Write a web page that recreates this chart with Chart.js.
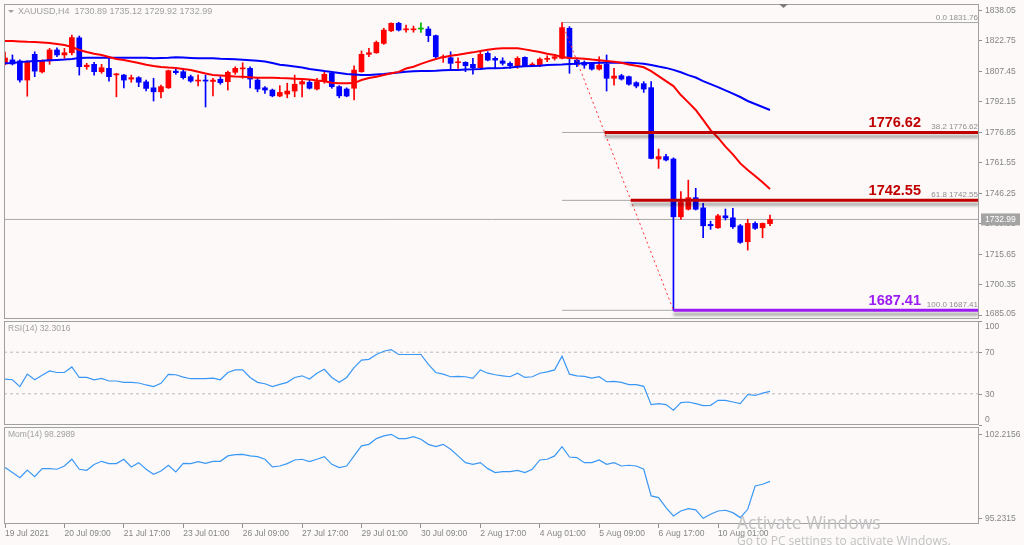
<!DOCTYPE html>
<html>
<head>
<meta charset="utf-8">
<title>XAUUSD H4</title>
<script src="https://cdn.jsdelivr.net/npm/chart.js@4.4.1/dist/chart.umd.min.js"></script>
<style>
  html, body { margin: 0; padding: 0; background: #fdf9f9; }
  #wrap { position: relative; width: 1024px; height: 545px; overflow: hidden; background: #fdf9f9; }
  canvas { position: absolute; left: 0; }
  .wm { position: absolute; left: 737px; color: #c2c2c2; font-family: "Open Sans", sans-serif; white-space: nowrap; line-height: 1; }
</style>
</head>
<body>
<div id="wrap">
  <canvas id="priceChart" width="1024" height="321" style="top:0"></canvas>
  <canvas id="rsiChart" width="1024" height="107" style="top:320px"></canvas>
  <canvas id="momChart" width="1024" height="119" style="top:426px"></canvas>
  <div class="wm" style="top:514px;font-size:17.5px">Activate Windows</div>
  <div class="wm" style="top:535px;font-size:12px">Go to PC settings to activate Windows.</div>
</div>
<script>
// XAUUSD H4 candles, 19 Jul 2021 01:00 -> 11 Aug 2021 05:00
const open = [1811,1813,1812.5,1802.9,1815.8,1807,1812.5,1818,1815.5,1816.6,
  1824.1,1809.6,1810.8,1807.1,1808.8,1805.5,1805.4,1803.4,1804.1,1802,
  1799,1797,1799,1807.4,1807.1,1804.6,1802.4,1802.9,1802.2,1803.3,
  1802.1,1806.8,1808.5,1808.8,1802.9,1799,1797.9,1794.9,1795.9,1797.4,
  1800.9,1801.8,1798.4,1802.1,1806.3,1799.6,1798.4,1798.8,1807.1,1815.8,
  1816.6,1821.3,1827.6,1831.4,1828.1,1828.1,1828.5,1828.5,1825.2,1814.1,
  1814.1,1811.6,1811.8,1810.8,1809.1,1816.3,1813.8,1812.5,1811.3,1809.6,
  1814.3,1810.4,1810.1,1813.3,1813.8,1813.8,1828.9,1812.9,1811.8,1811.3,
  1808.4,1810.8,1803.8,1805.1,1804.6,1801.6,1801.1,1799.1,1763.3,1764.5,
  1763.3,1734.3,1738.1,1743.9,1738.8,1730.5,1728.8,1734.8,1733.8,1729.8,
  1721.8,1731.0,1728.8,1730.89];
const high = [1817,1815.5,1813,1812.5,1817.1,1813,1818.8,1819.1,1818.8,1825.5,
  1825,1811.3,1811.8,1810.8,1813.8,1806.3,1805.8,1805.4,1804.6,1802.9,
  1803.8,1800.4,1807.9,1808.4,1808.8,1805.4,1805.5,1805.4,1803.8,1804.6,
  1807.4,1809.6,1811.6,1809.6,1803.8,1799.6,1798.4,1800.1,1801.3,1805.4,
  1803.8,1802.9,1803.8,1806.8,1806.8,1800.1,1799,1810.1,1817.5,1818.8,
  1822.5,1828.9,1831.6,1831.9,1830.5,1830,1831.6,1829.7,1825.5,1815.5,
  1817.1,1814.1,1812.1,1813.8,1817.1,1817.1,1814.6,1814.1,1812.1,1814.6,
  1814.6,1811.6,1814.1,1815.1,1815.8,1831.76,1829.7,1813.8,1812.5,1811.6,
  1814.6,1815.5,1808.8,1805.8,1804.9,1802.1,1802.1,1802.1,1768.3,1765.7,
  1763.9,1746.9,1752.7,1748.6,1741.1,1732.1,1735.5,1738.2,1738.5,1730.5,
  1733.1,1731.8,1731.2,1735.12];
const low = [1810.5,1810.5,1801.8,1794.8,1804.6,1806.5,1810.8,1814.6,1813.8,1815.5,
  1805.4,1808.3,1805.4,1806.3,1802.4,1794.5,1799,1801.8,1799.6,1797.4,
  1792.4,1794,1798.7,1805.8,1803.4,1801.8,1800,1789.4,1794.9,1800.8,
  1797.9,1805.8,1803.8,1799,1797,1796.2,1794.5,1794.5,1794,1794.5,
  1794.5,1798.4,1797.9,1801.3,1798.8,1794,1794.5,1792.9,1806.8,1814.6,
  1816.3,1820.8,1827.2,1827.5,1826.9,1826.9,1826.8,1822.2,1814.1,1811.8,
  1807.9,1808.8,1807.1,1805.8,1808.8,1812.5,1808.8,1810.4,1808.8,1808.8,
  1809.6,1809.6,1809.6,1812.1,1812.9,1813.5,1806.3,1809.6,1808.8,1807.9,
  1807.9,1797.4,1800.4,1802.9,1800.4,1799,1796.7,1763.3,1758.6,1762.3,
  1687.41,1733,1737.7,1737.7,1723.8,1728,1728.5,1732.7,1728.5,1721,
  1717.6,1728,1723.8,1729.92];
const close = [1814,1811,1802.9,1811.8,1807.4,1812.4,1818,1815.5,1816.6,1824.2,
  1809.6,1810.4,1807.1,1809.1,1804.6,1805.8,1802.9,1804.1,1801.8,1798.7,
  1797,1799.6,1807.6,1806.6,1804.1,1802.4,1802.9,1802.4,1802.9,1801.6,
  1806.8,1808.8,1808.8,1803.4,1798.4,1797.9,1795,1796.7,1797.4,1800.8,
  1802.1,1798.8,1802.1,1805.8,1799.6,1795,1794.9,1807.9,1815.8,1816.6,
  1821.8,1828,1831.4,1828,1828.5,1828.5,1828.5,1825.2,1814.6,1814.6,
  1811.3,1812.1,1810.1,1809.1,1815.8,1812.9,1812.9,1811.3,1810.1,1813.8,
  1810.1,1810.8,1813.4,1813.8,1814.6,1829.2,1813.8,1810.8,1810.4,1808.4,
  1810.4,1803.8,1804.9,1803.4,1800.8,1799.9,1798.4,1763.6,1764.5,1762.8,
  1734.3,1741.8,1743.9,1738.1,1729.8,1729.8,1734.8,1733.8,1729.3,1721.5,
  1731.0,1728.5,1731.0,1732.99];

// moving averages as drawn (red = fast, blue = slow)
const maFast = [1822.5,1822.5,1822.3,1822.1,1822.0,1821.8,1821.5,1821.0,1820.5,1819.5,
  1818.0,1817.0,1816.1,1815.5,1814.5,1813.5,1813.0,1812.2,1811.5,1810.6,
  1810.0,1809.5,1809.2,1809.0,1808.4,1807.9,1807.1,1806.2,1805.4,1805.2,
  1804.9,1804.7,1804.6,1804.3,1804.1,1804.1,1804.1,1803.9,1803.8,1803.6,
  1803.4,1803.2,1802.7,1802.3,1801.6,1801.3,1801.3,1801.4,1802.9,1803.9,
  1804.6,1805.4,1806.3,1807.0,1808.7,1809.6,1811.0,1812.3,1813.5,1814.4,
  1815.1,1815.6,1816.2,1816.8,1817.5,1818.1,1818.6,1818.8,1818.8,1818.8,
  1818.3,1817.6,1817.0,1816.1,1815.5,1814.5,1814.0,1813.8,1813.6,1813.2,
  1812.9,1812.5,1812.1,1811.6,1810.7,1810.1,1809.3,1807.4,1804.9,1802.4,
  1799.9,1795.4,1791.7,1787.9,1782.9,1777.8,1774.0,1769.5,1765.6,1761.1,
  1757.8,1754.8,1751.6,1748.2];
const maSlow = [1811.3,1811.5,1811.9,1812.2,1812.5,1812.6,1812.8,1813.0,1813.2,1813.5,
  1814.0,1814.1,1814.1,1814.1,1814.1,1814.1,1814.1,1814.1,1814.1,1814.1,
  1813.9,1814.0,1814.1,1814.3,1814.2,1814.0,1813.8,1813.8,1813.8,1813.6,
  1813.5,1813.3,1813.1,1812.9,1812.6,1812.2,1811.5,1810.6,1810.2,1809.7,
  1809.2,1808.5,1808.0,1807.4,1806.9,1806.4,1805.9,1805.7,1805.4,1805.4,
  1805.7,1805.9,1806.3,1806.7,1807.1,1807.3,1807.4,1807.5,1807.6,1807.8,
  1808.0,1808.0,1808.2,1808.3,1808.5,1808.8,1808.8,1808.9,1809.2,1809.6,
  1809.8,1810.0,1810.1,1810.4,1810.6,1810.7,1810.9,1811.1,1811.4,1811.5,
  1811.6,1811.6,1811.6,1811.6,1811.6,1811.4,1811.1,1810.5,1809.7,1809.0,
  1808.0,1806.8,1805.4,1804.2,1802.4,1800.9,1799.4,1797.7,1796.1,1794.4,
  1792.4,1790.9,1789.4,1787.9];

const rsi = [44.2,43.5,36.9,48.9,43.5,47.9,52.0,50.5,50.5,55.8,
  45.7,45.7,43.5,44.8,42.3,42.3,41.0,41.0,40.4,38.5,
  36.9,40.1,48.6,48.3,46.0,44.5,44.5,44.5,45.1,43.5,
  50.5,53.0,53.0,45.7,41.0,39.7,36.9,39.1,41.0,45.7,
  47.3,44.2,49.8,53.6,45.7,41.0,45.7,55.2,62.4,63.1,
  67.8,70.9,72.5,67.8,67.8,67.8,67.8,58.3,50.5,48.9,
  46.4,46.7,46.4,44.8,53.0,49.8,48.3,47.3,46.4,49.8,
  45.7,46.4,49.8,51.1,53.0,66.2,48.9,47.3,46.7,45.1,
  46.4,41.6,42.0,41.0,38.8,38.8,37.2,19.6,20.5,19.6,
  14.2,21.5,22.1,20.5,18.6,18.9,23.7,23.7,22.1,20.5,
  29.3,28.4,30.6,32.3016];
const mom = [99.45,99.03,98.61,99.25,98.70,99.36,99.36,99.31,99.58,100.14,
  99.31,99.22,99.70,99.97,99.78,99.78,100.14,99.50,99.86,99.31,
  98.89,99.17,99.64,99.08,99.80,99.78,99.94,99.80,99.97,99.97,
  100.42,100.53,100.55,100.42,100.36,100.14,99.50,99.58,99.78,100.08,
  100.14,99.94,100.14,100.36,99.72,99.45,99.58,100.42,101.25,101.38,
  101.86,102.08,102.2156,101.86,101.86,102.02,101.80,101.38,101.19,101.38,
  100.97,100.42,99.86,99.72,99.86,99.36,99.03,99.11,99.11,99.22,
  99.03,99.31,100.08,100.14,100.42,101.19,100.33,100.28,99.86,99.86,
  100.08,99.72,99.86,99.58,99.64,99.58,99.31,97.09,96.95,96.12,
  95.43,95.84,96.04,95.93,95.2315,95.57,95.84,95.90,95.70,95.29,
  95.98,97.92,98.06,98.2989];

// axis labels
const timeLabels = ['19 Jul 2021','20 Jul 09:00','21 Jul 17:00','23 Jul 01:00','26 Jul 09:00',
  '27 Jul 17:00','29 Jul 01:00','30 Jul 09:00','2 Aug 17:00','4 Aug 01:00','5 Aug 09:00',
  '6 Aug 17:00','10 Aug 01:00'];
const priceTicks = [1838.05,1822.75,1807.45,1792.15,1776.85,1761.55,1746.25,1730.95,1715.65,1700.35,1685.05];
const rsiTicks = [100, 70, 30, 0];
const rsiLevels = [70, 30];
const momTicks = [102.2156, 95.2315];

// fibonacci retracement from the 4 Aug high to the 6 Aug low
const fibPct = ['0.0', '38.2', '61.8', '100.0'];
const fibLevels = [1831.76, 1776.62, 1742.55, 1687.41];
const fibHighBar = 75, fibLowBar = 90;

// view window
const X_MIN = -0.135, X_MAX = 131.14, LABEL_STEP = 8;
const last = close.length - 1;
const bars = close.map((_, i) => i);

Chart.defaults.font.family = '"Liberation Sans", Arial, sans-serif';
const FONT = '"Liberation Sans", Arial, sans-serif';

const candleColor = bars.map(i => close[i] > open[i] ? '#ff0000' : (close[i] < open[i] ? '#0000ff' : '#00b400'));
const fibColor = ['#a0a0a0', '#c00000', '#c00000', '#9b1cf2'];
// thick level lines start where the dotted swing line crosses them
const fibStart = k => fibHighBar + (fibLevels[0] - fibLevels[k]) / (fibLevels[0] - fibLevels[3]) * (fibLowBar - fibHighBar);
const hline = (x0, v) => [{ x: x0, y: v }, { x: X_MAX, y: v }];
const series = arr => arr.map((v, i) => ({ x: i, y: v }));

function panelFrame(cfg) {
  return {
    id: 'panelFrame',
    beforeDatasetDraw(chart, args) {
      if (chart.data.datasets[args.index].shadow) {
        const ctx = chart.ctx;
        ctx.save();
        ctx.shadowColor = 'rgba(0,0,0,0.35)';
        ctx.shadowBlur = 3;
        ctx.shadowOffsetY = 4;
      }
    },
    afterDatasetDraw(chart, args) {
      if (chart.data.datasets[args.index].shadow) chart.ctx.restore();
    },
    afterDraw(chart) {
      const ctx = chart.ctx, a = chart.chartArea, ys = chart.scales.y;
      ctx.save();
      ctx.strokeStyle = '#a0a0a0';
      ctx.lineWidth = 1;
      ctx.strokeRect(a.left + 0.5, a.top + 0.5, a.right - a.left - 1, a.bottom - a.top - 1);
      ctx.font = '8.5px ' + FONT;
      ctx.textBaseline = 'middle';
      ctx.textAlign = 'left';
      cfg.ticks.forEach(v => {
        const py = Math.round(ys.getPixelForValue(v)) + 0.5;
        ctx.strokeStyle = '#909090';
        ctx.beginPath(); ctx.moveTo(a.right, py); ctx.lineTo(a.right + 3, py); ctx.stroke();
        const ty = Math.min(Math.max(py, a.top + 5.5), a.bottom - 5);
        ctx.fillStyle = '#858585';
        ctx.fillText(v.toFixed(cfg.digits), a.right + 6, ty);
      });
      if (cfg.title) {
        ctx.fillStyle = '#a0a0a0';
        ctx.fillText(cfg.title, a.left + 4, a.top + 8);
      }
      if (cfg.extra) cfg.extra(chart, ctx, a, ys);
      ctx.restore();
    }
  };
}

const common = {
  responsive: false,
  animation: false,
  devicePixelRatio: 1,
  events: [],
  plugins: { legend: { display: false }, tooltip: { enabled: false } }
};

// ---- price panel ----
new Chart(document.getElementById('priceChart'), {
  type: 'bar',
  data: {
    datasets: [
      ...[1, 2, 3].map(k => ({
        type: 'line', data: hline(fibStart(k), fibLevels[k]), borderColor: fibColor[k],
        borderWidth: 3, pointRadius: 0, order: 0, shadow: true
      })),
      { type: 'line', data: [{ x: fibHighBar, y: high[fibHighBar] }, { x: fibLowBar, y: low[fibLowBar] }],
        borderColor: '#ff3030', borderWidth: 1, borderDash: [2, 3], pointRadius: 0, order: 1 },
      { type: 'line', data: series(maFast), borderColor: '#ff0000', borderWidth: 2, pointRadius: 0, order: 1 },
      { type: 'line', data: series(maSlow), borderColor: '#0000ff', borderWidth: 2, pointRadius: 0, order: 1 },
      { data: bars.map(i => ({ x: i, y: [Math.min(open[i], close[i]), Math.max(open[i], close[i])] })),
        backgroundColor: candleColor, barThickness: 5, minBarLength: 1, grouped: false, order: 2 },
      { data: bars.map(i => ({ x: i, y: [low[i], high[i]] })),
        backgroundColor: candleColor, barThickness: 1, grouped: false, order: 3 },
      ...fibLevels.map(v => ({
        type: 'line', data: hline(fibHighBar, v), borderColor: '#a8a8a8', borderWidth: 1, pointRadius: 0, order: 4
      })),
      { type: 'line', data: [{ x: X_MIN, y: close[last] }, { x: X_MAX, y: close[last] }],
        borderColor: '#a8a8a8', borderWidth: 1, pointRadius: 0, order: 4 }
    ]
  },
  options: {
    ...common,
    layout: { padding: { left: 4, top: 4, right: 45, bottom: 2 } },
    scales: {
      x: { type: 'linear', min: X_MIN, max: X_MAX, offset: false, display: false },
      y: { min: 1683.04, max: 1841.06, display: false }
    }
  },
  plugins: [panelFrame({
    ticks: priceTicks, digits: 2,
    extra(chart, ctx, a, ys) {
      // header
      ctx.fillStyle = '#a0a0a0';
      ctx.beginPath(); ctx.moveTo(8, 10); ctx.lineTo(14, 10); ctx.lineTo(11, 13); ctx.closePath(); ctx.fill();
      ctx.font = '9px ' + FONT;
      ctx.textAlign = 'left';
      ctx.textBaseline = 'middle';
      ctx.fillText('XAUUSD,H4  ' + [open[last], high[last], low[last], close[last]].map(v => v.toFixed(2)).join(' '), 18, 12);
      // chart shift marker
      ctx.fillStyle = '#7a7a7a';
      ctx.beginPath(); ctx.moveTo(779, 4); ctx.lineTo(788, 4); ctx.lineTo(783.5, 8); ctx.closePath(); ctx.fill();
      // fibo texts
      ctx.textAlign = 'right';
      ctx.textBaseline = 'alphabetic';
      fibLevels.forEach((v, k) => {
        const py = ys.getPixelForValue(v);
        ctx.font = '8px ' + FONT;
        ctx.fillStyle = '#8e8e8e';
        ctx.fillText(fibPct[k] + ' ' + v.toFixed(2), a.right - 1, py - 3);
        if (k > 0) {
          ctx.font = 'bold 14.5px ' + FONT;
          ctx.fillStyle = fibColor[k];
          ctx.fillText(v.toFixed(2), a.right - 58, py - 5);
        }
      });
      // last price box
      const py = ys.getPixelForValue(close[last]);
      ctx.fillStyle = '#a4a4a4';
      ctx.fillRect(a.right + 2, py - 6, 39, 12);
      ctx.fillStyle = '#ffffff';
      ctx.font = '8.5px ' + FONT;
      ctx.textAlign = 'left';
      ctx.textBaseline = 'middle';
      ctx.fillText(close[last].toFixed(2), a.right + 6, py);
    }
  })]
});

// ---- RSI panel ----
new Chart(document.getElementById('rsiChart'), {
  type: 'line',
  data: {
    datasets: [
      { data: series(rsi), borderColor: '#3a98f5', borderWidth: 1.2, pointRadius: 0 },
      ...rsiLevels.map(v => ({
        data: [{ x: X_MIN, y: v }, { x: X_MAX, y: v }], borderColor: '#b8b8b8',
        borderWidth: 1, borderDash: [3, 3], pointRadius: 0
      }))
    ]
  },
  options: {
    ...common,
    layout: { padding: { left: 4, top: 1, right: 45, bottom: 2 } },
    scales: {
      x: { type: 'linear', min: X_MIN, max: X_MAX, offset: false, display: false },
      y: { min: 0, max: 100, display: false }
    }
  },
  plugins: [panelFrame({ ticks: rsiTicks, digits: 0, title: 'RSI(14) ' + rsi[last].toFixed(4) })]
});

// ---- Momentum panel ----
new Chart(document.getElementById('momChart'), {
  type: 'line',
  data: {
    datasets: [
      { data: series(mom), borderColor: '#3a98f5', borderWidth: 1.2, pointRadius: 0 }
    ]
  },
  options: {
    ...common,
    layout: { padding: { left: 4, top: 1, right: 45, bottom: 0 } },
    scales: {
      x: {
        type: 'linear', min: X_MIN, max: X_MAX, offset: false,
        afterBuildTicks: s => { s.ticks = timeLabels.map((_, k) => ({ value: k * LABEL_STEP })); },
        afterFit: s => { s.height = 21; },
        grid: { drawOnChartArea: false, drawTicks: true, tickLength: 4, color: '#909090' },
        border: { display: false },
        ticks: {
          align: 'start', maxRotation: 0, autoSkip: false, padding: 1, color: '#858585',
          font: { size: 8.5 }, callback: (v, k) => timeLabels[k]
        }
      },
      y: { min: 94.758, max: 102.822, display: false }
    }
  },
  plugins: [panelFrame({ ticks: momTicks, digits: 4, title: 'Mom(14) ' + mom[last].toFixed(4) })]
});
</script>
</body>
</html>
